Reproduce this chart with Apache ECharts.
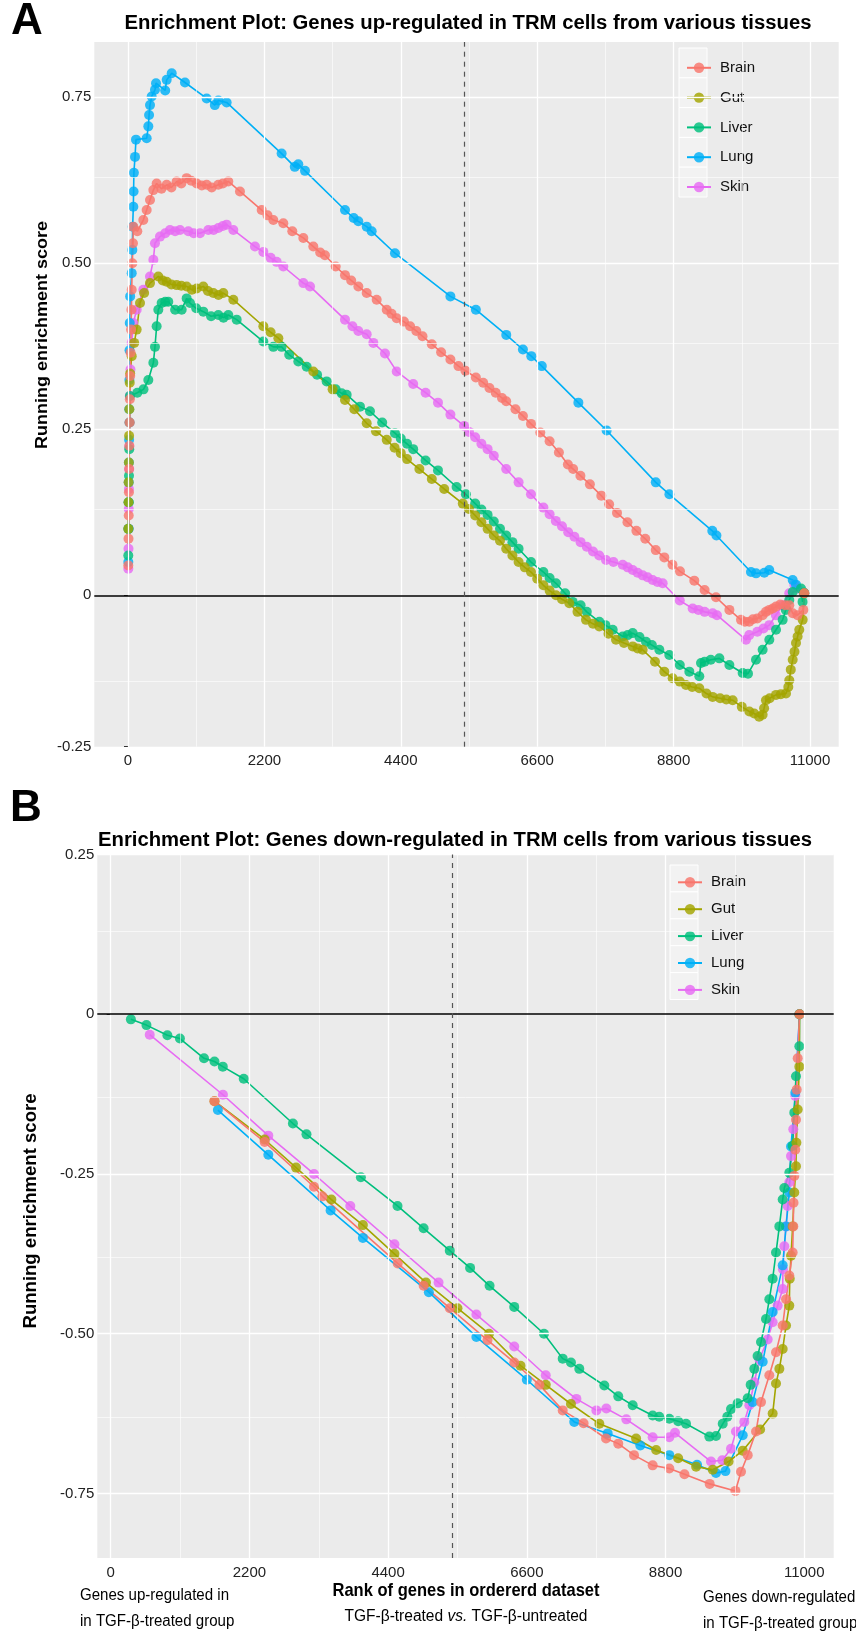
<!DOCTYPE html>
<html>
<head>
<meta charset="utf-8">
<script src="https://cdn.jsdelivr.net/npm/echarts@6/dist/echarts.min.js"></script>
<style>
  html, body { margin: 0; padding: 0; background: #ffffff; }
  #chart { width: 856px; height: 1640px; }
</style>
</head>
<body>
<div id="chart"></div>
<script>
// Tissue groups and their ggplot-style hue colours
const tissues = ['Brain', 'Gut', 'Liver', 'Lung', 'Skin'];
const tissueColors = ['#F8766D', '#A3A500', '#00BF7D', '#00B0F6', '#E76BF3'];

// Axis ticks and grid breaks
const rankTicks = [0, 2200, 4400, 6600, 8800, 11000];
const rankMinor = [1100, 3300, 5500, 7700, 9900];
const upTicks = [0.75, 0.5, 0.25, 0];
const upMinor = [0.625, 0.375, 0.125, -0.125];
const upFloor = -0.228;            // lower edge of panel A, labelled "-0.25"
const upCeil = 0.833;
const downTicks = [0.25, 0, -0.25, -0.5, -0.75];
const downMinor = [0.125, -0.125, -0.375, -0.625];
const downFloor = -0.851;
const downCeil = 0.25;
const splitRank = 5420;            // TGF-beta treated / untreated boundary

// Panel A: running enrichment score, genes up-regulated in TRM cells  [rank, score]
const brainUp = [[5,0.045],[8,0.085],[12,0.12],[15,0.155],[18,0.19],[22,0.225],[26,0.26],[30,0.295],[35,0.33],[42,0.365],[50,0.4],[55,0.43],[60,0.46],[70,0.5],[80,0.53],[86,0.555],[150,0.548],[247,0.565],[301,0.58],[355,0.595],[409,0.61],[462,0.62],[540,0.612],[624,0.618],[700,0.614],[785,0.623],[860,0.62],[946,0.628],[1020,0.624],[1108,0.62],[1190,0.617],[1269,0.618],[1350,0.614],[1457,0.618],[1530,0.62],[1618,0.623],[1806,0.608],[2156,0.58],[2250,0.572],[2344,0.565],[2505,0.56],[2650,0.548],[2828,0.538],[2989,0.525],[3100,0.516],[3177,0.512],[3350,0.495],[3500,0.482],[3600,0.474],[3715,0.465],[3850,0.455],[4011,0.445],[4173,0.43],[4250,0.424],[4334,0.417],[4450,0.412],[4550,0.405],[4650,0.398],[4750,0.39],[4900,0.378],[5050,0.366],[5200,0.355],[5330,0.345],[5443,0.338],[5611,0.328],[5729,0.32],[5830,0.312],[5931,0.305],[6032,0.297],[6100,0.292],[6250,0.28],[6370,0.27],[6500,0.258],[6650,0.245],[6800,0.232],[6950,0.215],[7095,0.197],[7180,0.19],[7297,0.18],[7450,0.167],[7634,0.15],[7760,0.137],[7887,0.124],[8056,0.11],[8200,0.097],[8343,0.085],[8512,0.068],[8650,0.057],[8782,0.046],[8903,0.036],[9134,0.022],[9300,0.008],[9484,-0.003],[9700,-0.022],[9887,-0.037],[9950,-0.04],[10020,-0.04],[10080,-0.036],[10150,-0.035],[10236,-0.03],[10290,-0.025],[10344,-0.022],[10400,-0.02],[10452,-0.017],[10520,-0.014],[10600,-0.015],[10666,-0.015],[10721,-0.027],[10800,-0.03],[10892,-0.022],[10908,0.003]];
const gutUp = [[5,0.1],[8,0.14],[10,0.17],[14,0.2],[18,0.24],[22,0.28],[28,0.32],[35,0.334],[60,0.36],[100,0.38],[140,0.4],[194,0.44],[260,0.455],[355,0.47],[489,0.48],[560,0.474],[624,0.472],[700,0.468],[785,0.467],[860,0.466],[946,0.465],[1030,0.46],[1108,0.462],[1215,0.465],[1290,0.458],[1376,0.455],[1460,0.452],[1537,0.455],[1699,0.445],[2183,0.405],[2300,0.396],[2425,0.387],[2989,0.337],[3300,0.31],[3500,0.294],[3650,0.28],[3850,0.259],[4000,0.247],[4173,0.234],[4300,0.222],[4400,0.214],[4500,0.205],[4700,0.19],[4900,0.175],[5100,0.16],[5400,0.138],[5500,0.13],[5600,0.12],[5700,0.11],[5800,0.1],[5900,0.09],[6000,0.082],[6100,0.07],[6200,0.06],[6300,0.05],[6400,0.042],[6500,0.035],[6600,0.025],[6700,0.015],[6800,0.007],[6903,0.0],[7000,-0.006],[7118,-0.012],[7250,-0.025],[7387,-0.037],[7500,-0.043],[7602,-0.047],[7750,-0.058],[7871,-0.067],[8000,-0.072],[8140,-0.077],[8220,-0.08],[8301,-0.082],[8500,-0.1],[8650,-0.115],[8785,-0.125],[8900,-0.13],[9000,-0.135],[9100,-0.138],[9215,-0.14],[9330,-0.148],[9430,-0.153],[9550,-0.155],[9650,-0.157],[9753,-0.158],[9900,-0.168],[10022,-0.175],[10100,-0.178],[10180,-0.183],[10236,-0.18],[10260,-0.17],[10290,-0.158],[10350,-0.155],[10452,-0.15],[10530,-0.149],[10613,-0.148],[10650,-0.138],[10666,-0.128],[10690,-0.112],[10721,-0.097],[10750,-0.085],[10774,-0.072],[10800,-0.062],[10827,-0.052],[10882,-0.037],[10908,0.003]];
const liverUp = [[5,0.06],[8,0.1],[12,0.14],[16,0.18],[20,0.22],[25,0.26],[30,0.3],[150,0.305],[250,0.31],[328,0.324],[409,0.35],[435,0.374],[462,0.405],[489,0.43],[543,0.44],[600,0.442],[650,0.442],[760,0.43],[866,0.43],[946,0.447],[1000,0.44],[1100,0.432],[1215,0.427],[1340,0.42],[1457,0.422],[1540,0.418],[1618,0.422],[1753,0.415],[2183,0.382],[2344,0.374],[2478,0.374],[2600,0.362],[2747,0.352],[2882,0.344],[3050,0.332],[3204,0.322],[3350,0.31],[3446,0.304],[3527,0.302],[3742,0.284],[3903,0.277],[4100,0.26],[4306,0.244],[4400,0.236],[4500,0.228],[4600,0.22],[4800,0.203],[5000,0.188],[5300,0.163],[5450,0.152],[5600,0.138],[5700,0.129],[5800,0.121],[5900,0.111],[6000,0.1],[6100,0.09],[6200,0.08],[6300,0.07],[6500,0.05],[6700,0.035],[6800,0.026],[6903,0.018],[7050,0.003],[7172,-0.01],[7300,-0.015],[7400,-0.025],[7602,-0.04],[7700,-0.045],[7818,-0.052],[7979,-0.062],[8060,-0.06],[8140,-0.057],[8250,-0.063],[8355,-0.07],[8450,-0.075],[8570,-0.082],[8731,-0.09],[8900,-0.105],[9054,-0.115],[9215,-0.122],[9242,-0.102],[9300,-0.1],[9400,-0.097],[9538,-0.095],[9700,-0.105],[9914,-0.117],[10000,-0.118],[10129,-0.097],[10236,-0.082],[10344,-0.067],[10452,-0.052],[10559,-0.037],[10610,-0.022],[10666,-0.007],[10721,0.005],[10855,0.01],[10880,-0.01],[10908,0.003]];
const lungUp = [[5,0.05],[8,0.1],[10,0.14],[12,0.17],[15,0.2],[18,0.234],[20,0.28],[22,0.324],[25,0.369],[28,0.41],[35,0.45],[60,0.485],[70,0.52],[75,0.555],[86,0.585],[90,0.608],[95,0.636],[113,0.66],[129,0.686],[301,0.688],[328,0.706],[340,0.723],[355,0.738],[382,0.751],[435,0.761],[452,0.771],[600,0.76],[624,0.776],[705,0.786],[919,0.772],[1269,0.748],[1400,0.738],[1457,0.745],[1591,0.742],[2478,0.665],[2690,0.645],[2747,0.649],[2855,0.639],[3500,0.58],[3640,0.568],[3715,0.563],[3850,0.555],[3930,0.548],[4306,0.515],[5200,0.45],[5611,0.43],[6101,0.392],[6370,0.37],[6505,0.36],[6674,0.345],[7264,0.29],[7720,0.248],[8513,0.17],[8732,0.152],[9424,0.097],[9491,0.09],[10048,0.035],[10130,0.033],[10263,0.034],[10343,0.038],[10721,0.023],[10774,0.016],[10900,0.004]];
const skinUp = [[5,0.04],[8,0.07],[10,0.1],[12,0.13],[15,0.16],[18,0.19],[20,0.224],[25,0.26],[30,0.3],[40,0.34],[60,0.38],[86,0.41],[140,0.43],[247,0.46],[355,0.48],[409,0.505],[435,0.53],[516,0.54],[600,0.545],[677,0.55],[760,0.548],[839,0.55],[973,0.548],[1060,0.545],[1161,0.545],[1296,0.55],[1380,0.55],[1457,0.553],[1530,0.556],[1591,0.558],[1699,0.55],[2048,0.525],[2183,0.517],[2300,0.508],[2398,0.502],[2505,0.495],[2828,0.47],[2936,0.465],[3500,0.415],[3620,0.405],[3715,0.398],[3850,0.393],[3957,0.38],[4145,0.364],[4334,0.337],[4600,0.318],[4800,0.305],[5000,0.29],[5200,0.272],[5420,0.255],[5500,0.246],[5600,0.238],[5700,0.228],[5800,0.22],[5900,0.21],[6100,0.19],[6300,0.17],[6500,0.152],[6700,0.132],[6800,0.122],[6900,0.112],[7000,0.104],[7100,0.095],[7200,0.088],[7300,0.08],[7400,0.073],[7500,0.066],[7600,0.06],[7710,0.053],[7830,0.05],[7979,0.046],[8060,0.042],[8140,0.038],[8220,0.034],[8301,0.03],[8380,0.027],[8462,0.023],[8540,0.02],[8624,0.018],[8900,-0.008],[9108,-0.02],[9200,-0.022],[9300,-0.025],[9430,-0.027],[9500,-0.03],[9968,-0.067],[10020,-0.06],[10150,-0.055],[10250,-0.05],[10344,-0.045],[10450,-0.03],[10559,-0.015],[10666,0.003],[10747,0.016],[10800,0.01],[10908,0.003]];

// Panel B: running enrichment score, genes down-regulated in TRM cells  [rank, score]
const brainDown = [[1646,-0.136],[2442,-0.2],[3224,-0.27],[3357,-0.285],[4552,-0.39],[4964,-0.425],[5379,-0.46],[5976,-0.51],[6400,-0.545],[6800,-0.58],[7169,-0.62],[7500,-0.64],[7856,-0.664],[8050,-0.672],[8300,-0.69],[8596,-0.706],[8860,-0.711],[9100,-0.72],[9500,-0.735],[9908,-0.746],[9997,-0.716],[10103,-0.69],[10235,-0.653],[10314,-0.607],[10446,-0.565],[10552,-0.529],[10658,-0.487],[10711,-0.446],[10763,-0.409],[10816,-0.373],[10826,-0.332],[10830,-0.295],[10842,-0.253],[10858,-0.212],[10869,-0.165],[10880,-0.118],[10896,-0.069],[10925,0]];
const gutDown = [[1646,-0.136],[2442,-0.196],[2940,-0.24],[3500,-0.29],[4000,-0.33],[4500,-0.375],[5000,-0.42],[5500,-0.46],[6000,-0.5],[6500,-0.55],[6900,-0.58],[7300,-0.61],[7750,-0.641],[8333,-0.664],[8651,-0.682],[9000,-0.695],[9285,-0.708],[9549,-0.713],[9800,-0.7],[10024,-0.683],[10300,-0.65],[10499,-0.625],[10552,-0.578],[10605,-0.555],[10658,-0.524],[10711,-0.487],[10763,-0.456],[10770,-0.414],[10790,-0.378],[10816,-0.332],[10842,-0.279],[10869,-0.238],[10875,-0.201],[10896,-0.149],[10922,-0.082],[10925,0]];
const liverDown = [[320,-0.008],[567,-0.017],[899,-0.033],[1098,-0.038],[1480,-0.069],[1646,-0.074],[1778,-0.082],[2110,-0.101],[2890,-0.171],[3105,-0.188],[3968,-0.255],[4549,-0.3],[4963,-0.335],[5378,-0.37],[5700,-0.397],[6009,-0.425],[6400,-0.458],[6872,-0.5],[7169,-0.539],[7300,-0.545],[7432,-0.555],[7829,-0.581],[8050,-0.598],[8279,-0.612],[8596,-0.628],[8700,-0.63],[8860,-0.633],[9000,-0.637],[9125,-0.641],[9494,-0.661],[9600,-0.66],[9707,-0.641],[9780,-0.63],[9838,-0.618],[9944,-0.609],[10103,-0.601],[10150,-0.58],[10208,-0.555],[10260,-0.535],[10314,-0.513],[10393,-0.477],[10446,-0.446],[10499,-0.414],[10552,-0.373],[10605,-0.332],[10658,-0.29],[10684,-0.272],[10763,-0.248],[10816,-0.206],[10842,-0.154],[10869,-0.097],[10922,-0.05],[10925,0]];
const lungDown = [[1700,-0.15],[2500,-0.22],[3488,-0.307],[4000,-0.35],[5046,-0.435],[5800,-0.505],[6600,-0.572],[7352,-0.638],[7882,-0.656],[8400,-0.675],[8860,-0.69],[9300,-0.705],[9600,-0.718],[9750,-0.715],[10024,-0.659],[10182,-0.607],[10341,-0.544],[10499,-0.466],[10658,-0.393],[10711,-0.332],[10763,-0.279],[10790,-0.207],[10858,-0.123],[10925,0]];
const skinDown = [[619,-0.032],[1780,-0.126],[2500,-0.19],[3224,-0.25],[3800,-0.3],[4500,-0.36],[5200,-0.42],[5800,-0.47],[6400,-0.52],[6900,-0.565],[7386,-0.602],[7703,-0.62],[7861,-0.617],[8178,-0.634],[8596,-0.662],[8860,-0.662],[8950,-0.655],[9521,-0.7],[9700,-0.698],[9838,-0.68],[9917,-0.653],[10049,-0.638],[10129,-0.612],[10208,-0.576],[10288,-0.54],[10420,-0.509],[10499,-0.482],[10578,-0.456],[10658,-0.43],[10662,-0.399],[10684,-0.363],[10711,-0.332],[10737,-0.3],[10763,-0.263],[10790,-0.222],[10826,-0.18],[10858,-0.128],[10925,0]];

const upSeries = { Brain: brainUp, Gut: gutUp, Liver: liverUp, Lung: lungUp, Skin: skinUp };
const downSeries = { Brain: brainDown, Gut: gutDown, Liver: liverDown, Lung: lungDown, Skin: skinDown };

const SANS = "'Liberation Sans', Arial, Helvetica, sans-serif";

// Horizontal squeeze that gives a condensed face of a given overall width
const measureCtx = document.createElement('canvas').getContext('2d');
function squeeze(text, font, width) {
  measureCtx.font = font;
  return width / measureCtx.measureText(text).width;
}

function fmt(v, floorValue, floorText) {
  if (Math.abs(v - floorValue) < 1e-9) return floorText;
  if (v === 0) return '0';
  return v.toFixed(2);
}

function xAxisFor(gridIndex, min, max) {
  return {
    type: 'value', gridIndex, min, max,
    axisLine: { show: false },
    axisTick: { show: true, length: 4, customValues: rankTicks, lineStyle: { color: '#333', width: 1 } },
    axisLabel: { customValues: rankTicks, color: '#222', fontSize: 15, fontFamily: SANS, margin: 7, formatter: v => String(v) },
    splitLine: { show: false }
  };
}

function yAxisFor(gridIndex, min, max, labels, floorText) {
  return {
    type: 'value', gridIndex, min, max,
    axisLine: { show: false },
    axisTick: { show: true, length: 4, customValues: labels, lineStyle: { color: '#333', width: 1 } },
    axisLabel: {
      customValues: labels, color: '#222', fontSize: 15, fontFamily: SANS, margin: 3,
      formatter: v => fmt(v, min, floorText)
    },
    splitLine: { show: false }
  };
}

// Background grid, zero line and treated/untreated divider, drawn beneath the curves
function guideSeries(idx, majorY, minorY, divider) {
  const lines = [];
  rankTicks.forEach(v => lines.push({ xAxis: v, lineStyle: { color: '#fff', width: 1.3, type: 'solid' } }));
  rankMinor.forEach(v => lines.push({ xAxis: v, lineStyle: { color: '#fff', width: 0.6, type: 'solid' } }));
  majorY.filter(v => v !== 0).forEach(v => lines.push({ yAxis: v, lineStyle: { color: '#fff', width: 1.3, type: 'solid' } }));
  minorY.forEach(v => lines.push({ yAxis: v, lineStyle: { color: '#fff', width: 0.6, type: 'solid' } }));
  lines.push({ yAxis: 0, lineStyle: { color: '#000', width: 1.5, type: 'solid' } });
  lines.push({ xAxis: divider, lineStyle: { color: '#555', width: 1.2, type: [5, 5] } });
  return {
    type: 'line', name: 'guides-' + idx, xAxisIndex: idx, yAxisIndex: idx,
    data: [], z: 1, silent: true, animation: false,
    markLine: { silent: true, symbol: ['none', 'none'], label: { show: false }, animation: false, data: lines }
  };
}

function curveSeries(name, idx, data) {
  const c = tissueColors[tissues.indexOf(name)];
  return {
    type: 'line', name, xAxisIndex: idx, yAxisIndex: idx, data,
    symbol: 'circle', symbolSize: 10, showSymbol: true,
    itemStyle: { color: c, opacity: 0.82 },
    lineStyle: { color: c, width: 1.6 },
    emphasis: { disabled: true },
    z: 3, animation: false
  };
}

// Brain is drawn last so its markers sit on top
const drawOrder = ['Skin', 'Lung', 'Liver', 'Gut', 'Brain'];

const series = [guideSeries(0, upTicks, upMinor, splitRank), guideSeries(1, downTicks, downMinor, splitRank)];
drawOrder.forEach(n => series.push(curveSeries(n, 0, upSeries[n])));
drawOrder.forEach(n => series.push(curveSeries(n, 1, downSeries[n])));

function legendFor(left, top, gap) {
  return {
    data: tissues, orient: 'vertical', left, top,
    itemWidth: 24, itemHeight: 13, itemGap: gap,
    selectedMode: false,
    textStyle: { fontSize: 15, color: '#111', fontFamily: SANS, lineHeight: 16, padding: [0, 0, 0, 4] }
  };
}

function keyBoxes(x, y0, w, h) {
  return tissues.map((t, i) => ({
    type: 'rect', z: 2, silent: true,
    shape: { x, y: y0 + i * h, width: w, height: h },
    style: { fill: '#F2F2F2', stroke: '#FFFFFF', lineWidth: 1 }
  }));
}

// Text placed at (x, y); a given width or scale squeezes it horizontally
function text(str, x, y, font, width, align, rotation, scale) {
  return {
    type: 'text', z: 5, silent: true, x, y,
    rotation: rotation || 0,
    scaleX: scale || (width ? squeeze(str, font, width) : 1),
    style: { text: str, font, fill: '#000', textAlign: align || 'center', textVerticalAlign: 'middle' }
  };
}

const axisNote = 'TGF-β-treated vs. TGF-β-untreated';
const noteFont = '16px ' + SANS;
const noteScale = squeeze(axisNote, noteFont, 243);
const sideScale = squeeze('Genes up-regulated in', noteFont, 149);

const graphics = [
  ...keyBoxes(679, 48, 28, 29.8),
  ...keyBoxes(670, 865, 28, 26.9),
  text('A', 27, 22, 'bold 44px ' + SANS),
  text('B', 26, 809, 'bold 44px ' + SANS),
  text('Enrichment Plot: Genes up-regulated in TRM cells from various tissues', 468, 23, 'bold 20px ' + SANS, 687),
  text('Enrichment Plot: Genes down-regulated in TRM cells from various tissues', 455, 840, 'bold 20px ' + SANS, 714),
  text('Running enrichment score', 42, 335, 'bold 17px ' + SANS, 228, 'center', Math.PI / 2),
  text('Running enrichment score', 31, 1211, 'bold 18px ' + SANS, 235, 'center', Math.PI / 2),
  text('Rank of genes in ordererd dataset', 466, 1591, 'bold 19px ' + SANS, 267),
  {
    type: 'text', z: 5, silent: true, x: 466, y: 1617, scaleX: noteScale,
    style: {
      text: '{n|TGF-β-treated }{i|vs.}{n| TGF-β-untreated}',
      textAlign: 'center', textVerticalAlign: 'middle',
      rich: {
        n: { font: noteFont, fill: '#000' },
        i: { font: 'italic ' + noteFont, fill: '#000' }
      }
    }
  },
  text('Genes up-regulated in', 80, 1596, noteFont, 0, 'left', 0, sideScale),
  text('in TGF-β-treated group', 80, 1622, noteFont, 0, 'left', 0, sideScale),
  text('Genes down-regulated', 703, 1598, noteFont, 0, 'left', 0, sideScale),
  text('in TGF-β-treated group', 703, 1624, noteFont, 0, 'left', 0, sideScale)
];

const chart = echarts.init(document.getElementById('chart'), null, { renderer: 'canvas', width: 856, height: 1640 });
chart.setOption({
  animation: false,
  backgroundColor: '#ffffff',
  grid: [
    { left: 94.3, right: 17.3, top: 42, bottom: 893.3, show: true, backgroundColor: '#EBEBEB', borderWidth: 0, z: 0 },
    { left: 97.3, right: 22.3, top: 854.5, bottom: 82, show: true, backgroundColor: '#EBEBEB', borderWidth: 0, z: 0 }
  ],
  xAxis: [xAxisFor(0, -543.5, 11463), xAxisFor(1, -212.5, 11467)],
  yAxis: [
    yAxisFor(0, upFloor, upCeil, [0.75, 0.5, 0.25, 0, upFloor], '-0.25'),
    yAxisFor(1, downFloor, downCeil, downTicks, '')
  ],
  legend: [legendFor(681, 54.8, 13.8), legendFor(672, 869.3, 10.9)],
  graphic: { elements: graphics },
  series
});
</script>
</body>
</html>
